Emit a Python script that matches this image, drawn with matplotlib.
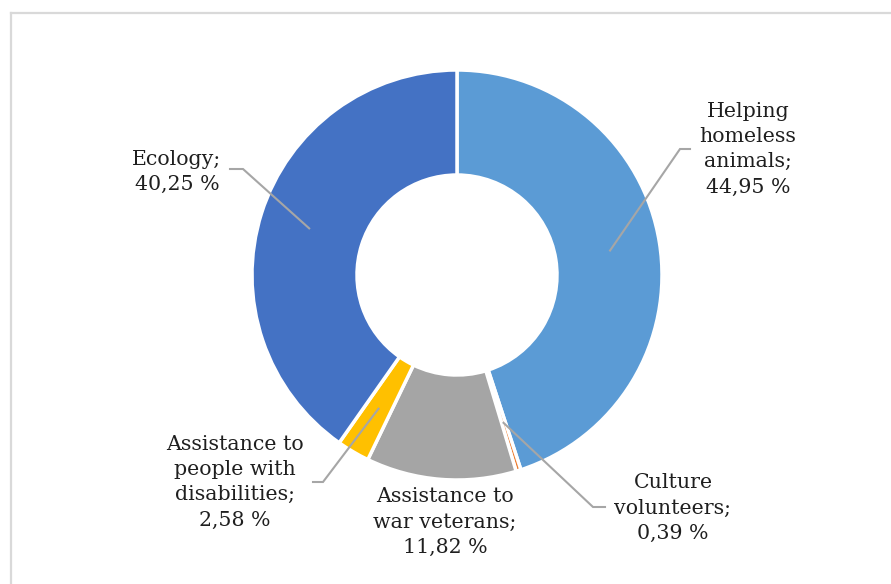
import numpy as np
import matplotlib
matplotlib.use("Agg")
import matplotlib.pyplot as plt
from matplotlib.lines import Line2D

categories = ["Helping\nhomeless\nanimals;", "Culture\nvolunteers;", "Assistance to\nwar veterans;",
              "Assistance to\npeople with\ndisabilities;", "Ecology;"]
values = [44.95, 0.39, 11.82, 2.58, 40.25]
value_labels = ["44,95 %", "0,39 %", "11,82 %", "2,58 %", "40,25 %"]
colors = ["#5B9BD5", "#ED7D31", "#A5A5A5", "#FFC000", "#4472C4"]

W, H = 891, 584
fig = plt.figure(figsize=(W / 100, H / 100), dpi=100)
ax = fig.add_axes([0, 0, 1, 1])

# pixel coords -> data (y flipped)
def py(y):
    return H - y

cx, cy, R = 457, py(275), 205
ax.pie(values, colors=colors, startangle=90, counterclock=False, center=(cx, cy), radius=R,
       wedgeprops=dict(width=105, edgecolor="white", linewidth=2.5), frame=True)
ax.set_xlim(0, W)
ax.set_ylim(0, H)
ax.set_aspect("equal")
ax.axis("off")

# label layout: text center, elbow point, line end (pixels); None = no leader
layout = [
    ((748, 149), (680, 149), (690, 149)),
    ((673, 508), (593, 507), (605, 507)),
    ((445, 522), None, None),
    ((235, 482), (323, 482), (313, 482)),
    ((177, 172), (243, 169), (230, 169)),
]

cum = np.cumsum([0] + values[:-1])
for i, (cat, lab) in enumerate(zip(categories, value_labels)):
    (tx, ty), elbow, end = layout[i]
    ax.text(tx, py(ty), cat + "\n" + lab, ha="center", va="center", fontsize=14.8,
            family="DejaVu Serif", color="#1f1f1f", linespacing=1.42)
    if elbow is not None:
        mid = np.deg2rad(90 - (cum[i] + values[i] / 2) * 3.6)
        ax_x = cx + 155 * np.cos(mid)
        ax_y = cy + 155 * np.sin(mid)
        ax.plot([ax_x, elbow[0], end[0]], [ax_y, py(elbow[1]), py(end[1])],
                color="#A6A6A6", lw=1.5, solid_joinstyle="miter")

# chart frame
fig.add_artist(Line2D([11 / W, 1.01], [1 - 13 / H, 1 - 13 / H], color="#D9D9D9", lw=1.6))
fig.add_artist(Line2D([11 / W, 11 / W], [1 - 13 / H, -0.01], color="#D9D9D9", lw=1.6))

fig.savefig("out.png", dpi=100, facecolor="white")
